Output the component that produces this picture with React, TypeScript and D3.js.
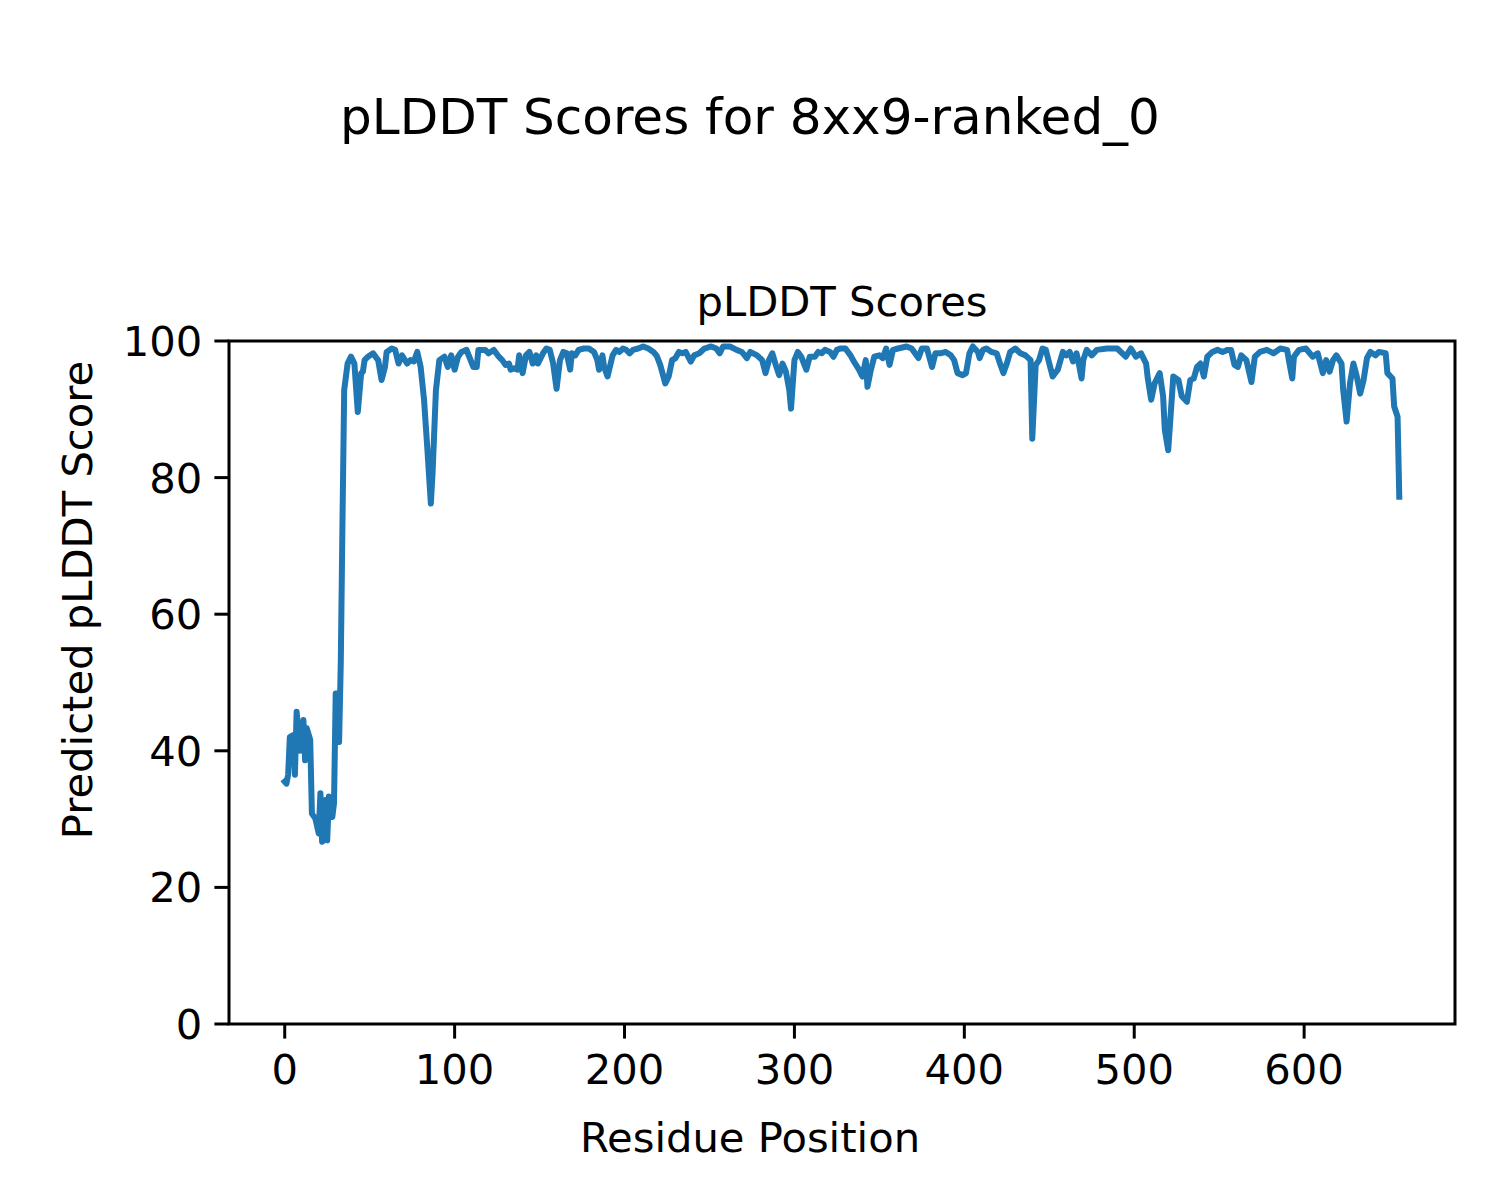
import React from "react";
import * as d3 from "d3";

const residues: number[] = [
  0, 1, 2, 3, 5, 6, 7, 9, 11, 12, 13, 15, 16, 18, 20, 21, 22, 24, 25, 26, 28, 29, 30, 31, 32, 33, 34, 35, 37, 39,
  41, 43, 45, 46, 47, 49, 52, 54, 55, 57, 59, 60, 63, 65, 67, 69, 72, 74, 76, 78, 80, 82, 84, 86, 87, 89, 91, 94, 96, 98,
  100, 102, 104, 107, 111, 113, 114, 118, 120, 123, 126, 128, 130, 132, 133, 135, 137, 138, 140, 142, 144, 146, 148, 149,
  152, 154, 156, 158, 160, 162, 164, 166, 168, 169, 171, 173, 176, 179, 182, 184, 185, 187, 188, 190, 193, 195, 197, 199,
  201, 203, 205, 208, 211, 214, 217, 219, 221, 224, 226, 228, 230, 232, 234, 236, 239, 241, 244, 247, 251, 254, 256, 258,
  262, 266, 269, 272, 274, 278, 281, 283, 285, 287, 289, 291, 293, 295, 297, 298, 300, 302, 304, 307, 309, 312, 314, 316,
  318, 321, 323, 325, 327, 330, 333, 335, 338, 340, 342, 343, 345, 347, 350, 352, 354, 356, 358, 361, 366, 369, 373, 375,
  378, 381, 383, 386, 389, 392, 394, 396, 399, 401, 403, 405, 408, 409, 411, 413, 416, 419, 421, 423, 425, 427, 430, 433,
  436, 439, 440, 442, 444, 446, 448, 450, 452, 455, 458, 460, 462, 464, 466, 467, 469, 470, 472, 475, 478, 484, 490, 495,
  498, 501, 504, 507, 508, 510, 512, 515, 517, 518, 520, 523, 526, 528, 531, 533, 535, 537, 539, 541, 543, 546, 549, 552,
  555, 557, 559, 561, 563, 566, 569, 571, 574, 578, 582, 586, 590, 591, 593, 594, 597, 601, 605, 608, 611, 613, 615, 617,
  619, 622, 623, 625, 627, 629, 631, 633, 635, 637, 639, 642, 644, 648, 649, 652, 653, 655, 656,
];

const scores: number[] = [
  35.5, 35.2, 36.5, 42, 42.3, 36.5, 45.7, 40, 44.5, 38.6, 43.3, 41.6, 30.8, 30.1, 27.9, 33.8, 26.7, 32.8, 26.9, 33.3, 30.3, 32.3, 48.4, 48.4, 41.3, 53, 73.8, 92.8, 96.7, 97.7,
  96.7, 89.6, 95.3, 95.5, 97.2, 97.7, 98.2, 97.5, 97.2, 94.3, 96.2, 98.4, 98.9, 98.7, 96.7, 97.9, 96.7, 97.2, 97, 98.4, 96.2, 91.4, 84, 76.2, 80.6, 92.8, 97.2, 97.7, 96.2, 97.9,
  95.8, 97.7, 98.4, 98.7, 96.2, 96.2, 98.7, 98.7, 98.2, 98.7, 97.7, 97.2, 96.5, 96.7, 95.8, 96, 95.8, 97.9, 95.3, 97.9, 98.4, 96.7, 97.9, 96.7,
  98.2, 98.9, 98.7, 96.7, 93, 97.2, 98.4, 98.2, 95.8, 98.2, 97.9, 98.7, 98.9, 98.9, 98.4, 97.2, 95.8, 97.9, 96.2, 94.8, 97.9, 98.7, 98.4, 98.9,
  98.7, 98.2, 98.7, 98.9, 99.2, 98.9, 98.4, 97.8, 96.5, 93.8, 94.8, 97.2, 97.5, 98.4, 98.2, 98.4, 97, 97.9, 98.2, 98.9, 99.2, 98.9, 98.2, 99.2,
  99.2, 98.7, 98.4, 97.5, 98.4, 97.9, 97.2, 95.3, 97.2, 98.2, 96.5, 95, 96.7, 95.5, 92.8, 90.1, 97.2, 98.4, 97.7, 95.8, 97.7, 97.7, 98.4, 98.2,
  98.7, 98.4, 97.7, 98.7, 98.9, 98.9, 97.9, 97, 95.8, 94.8, 97.2, 93.3, 95.8, 97.7, 97.9, 97.5, 98.9, 96.5, 98.7, 98.9, 99.2, 98.9, 97.5, 98.9,
  98.9, 96.2, 98.2, 98.2, 98.4, 97.9, 97.2, 95.3, 95, 95.3, 98.2, 99.2, 98.4, 97.5, 98.7, 98.9, 98.4, 98.2, 96.7, 95.3, 96.7, 98.4, 98.9, 98.2,
  97.9, 97.2, 85.7, 96.5, 97.2, 98.9, 98.7, 96.7, 94.8, 95.8, 98.4, 97.9, 98.4, 97, 98.2, 97.2, 94.5, 97.2, 98.7, 97.9, 98.7, 98.9, 98.9, 97.7,
  98.9, 97.7, 98.2, 96.7, 94.5, 91.4, 93.8, 95.3, 91.9, 87, 84, 94.8, 94.3, 91.9, 91.1, 94.3, 94.5, 96.2, 96.7, 94.8, 97.7, 98.4, 98.7, 98.4,
  98.7, 98.7, 96.5, 96.2, 97.9, 97.2, 94, 97.7, 98.4, 98.7, 98.2, 98.9, 98.7, 97.2, 94.5, 97.7, 98.7, 98.9, 97.7, 98.2, 95.3, 97.2, 95.5, 97.2,
  97.9, 96.7, 92.8, 88.2, 93.8, 96.7, 94.8, 92.3, 94.3, 97.5, 98.4, 97.9, 98.4, 98.2, 95.3, 94.5, 90.4, 88.9, 77.2,
];

const xTicks: number[] = [0, 100, 200, 300, 400, 500, 600];
const yTicks: number[] = [0, 20, 40, 60, 80, 100];

const suptitle = "pLDDT Scores for 8xx9-ranked_0";
const axesTitle = "pLDDT Scores";
const xLabel = "Residue Position";
const yLabel = "Predicted pLDDT Score";

export default function App() {
  const W = 1500;
  const H = 1200;
  const left = 229;
  const right = 1455;
  const top = 341;
  const bottom = 1024;
  const font = "'DejaVu Sans', sans-serif";
  const fs = 41.7;

  const xMin = d3.min(residues) as number;
  const xMax = d3.max(residues) as number;
  const pad = (xMax - xMin) * 0.05;
  const x = d3.scaleLinear().domain([xMin - pad, xMax + pad]).range([left, right]);
  const y = d3.scaleLinear().domain([0, 100]).range([bottom, top]);

  const pts: [number, number][] = residues.map((r, i) => [r, scores[i]]);
  const line = d3
    .line<[number, number]>()
    .x((d) => x(d[0]))
    .y((d) => y(d[1]));

  const tickLen = 14.6;

  return (
    <svg
      width={W}
      height={H}
      style={{ position: "absolute", left: 0, top: 0, background: "#fff" }}
      fontFamily={font}
    >
      <rect x={0} y={0} width={W} height={H} fill="#fff" />
      <text x={750} y={134} textAnchor="middle" fontSize={50} fill="#000">
        {suptitle}
      </text>
      <text x={(left + right) / 2} y={316} textAnchor="middle" fontSize={fs} fill="#000">
        {axesTitle}
      </text>
      <defs>
        <clipPath id="plotclip">
          <rect x={left} y={top} width={right - left} height={bottom - top} />
        </clipPath>
      </defs>
      <path
        d={line(pts) || ""}
        fill="none"
        stroke="#1f77b4"
        strokeWidth={6}
        strokeLinejoin="round"
        strokeLinecap="square"
        clipPath="url(#plotclip)"
      />
      <rect
        x={left}
        y={top}
        width={right - left}
        height={bottom - top}
        fill="none"
        stroke="#000"
        strokeWidth={3}
      />
      {xTicks.map((t) => (
        <g key={"x" + t}>
          <line x1={x(t)} x2={x(t)} y1={bottom} y2={bottom + tickLen} stroke="#000" strokeWidth={3} />
          <text x={x(t)} y={1084} textAnchor="middle" fontSize={fs} fill="#000">
            {t}
          </text>
        </g>
      ))}
      {yTicks.map((t) => (
        <g key={"y" + t}>
          <line x1={left - tickLen} x2={left} y1={y(t)} y2={y(t)} stroke="#000" strokeWidth={3} />
          <text x={left - tickLen - 12} y={y(t) + 15} textAnchor="end" fontSize={fs} fill="#000">
            {t}
          </text>
        </g>
      ))}
      <text x={750} y={1152} textAnchor="middle" fontSize={fs} fill="#000">
        {xLabel}
      </text>
      <text
        transform={`translate(92,600) rotate(-90)`}
        textAnchor="middle"
        fontSize={fs}
        fill="#000"
      >
        {yLabel}
      </text>
    </svg>
  );
}
